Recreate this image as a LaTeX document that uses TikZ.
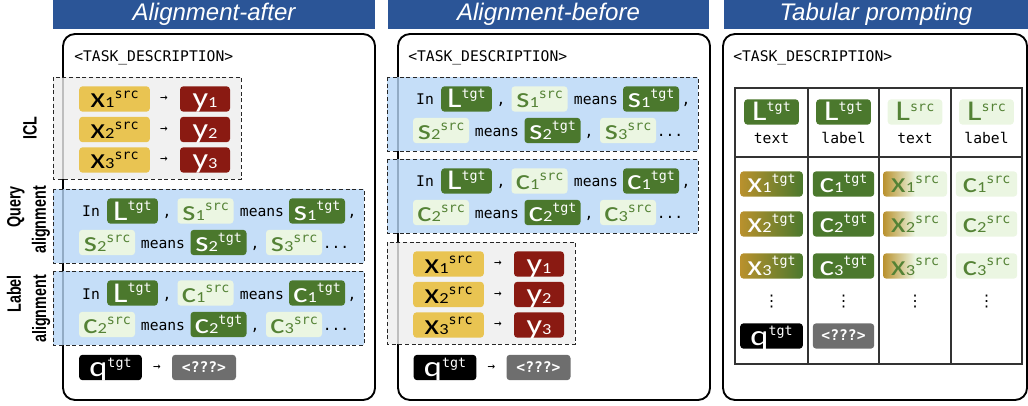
\documentclass[tikz,border=0pt]{standalone}
\usepackage{fontspec}
\setmainfont{Carlito}
\newfontfamily\tokfont[FakeStretch=1.2]{Carlito}
\newfontfamily\monofont{DejaVu Sans Mono}
\newfontfamily\symfont{DejaVu Sans}
\newfontfamily\headfont{Liberation Sans}
\newfontfamily\sidefont[FakeStretch=0.74]{Liberation Sans}
\usepackage{xcolor}
\usepackage{tikz}
\usetikzlibrary{positioning}

\definecolor{hdblue}{HTML}{2B5597}
\definecolor{icly}{HTML}{E9C452}
\definecolor{iclr}{HTML}{8A1A12}
\definecolor{dgreen}{HTML}{4B782D}
\definecolor{lgreen}{HTML}{EBF6E2}
\definecolor{tgreen}{HTML}{548235}
\definecolor{gold}{HTML}{B9912D}
\definecolor{unkgrey}{HTML}{6E6E6E}
\definecolor{iclgrey}{HTML}{EEEEEE}
\definecolor{alblue}{HTML}{B7D6F6}

% token: main letter, subscript, superscript
\newcommand{\tok}[3]{{\tokfont\fontsize{21.5}{21.5}\selectfont #1}{\tokfont\fontsize{11.5}{11.5}\selectfont #2}\raisebox{7pt}{\monofont\fontsize{10}{10}\selectfont #3}}

% ICL examples block
\newcommand{\iclblock}[1]{%
  \draw[iclgrp] (53,77) rectangle (241,179);
  \foreach \i/\yy in {1/99,2/129.5,3/160}{
    \node[xsrc] (#1x\i) at (114.5,\yy) {\tok{x}{\i}{src}};
    \node[arr] (#1a\i) at (164,\yy) {→};
    \node[ylab] (#1y\i) at (205,\yy) {\tok{y}{\i}{}};
  }
}

% alignment block (#2 = letter)
\newcommand{\alignblock}[2]{%
  \draw[aligngrp] (53,189) rectangle (364,263);
  \node[word] (#1in) at (91,217) {In};
  \node[tgtbox, minimum width=38pt] (#1L) at (132.5,211) {\tok{L}{}{tgt}};
  \node[word] (#1k1) at (167,217) {,};
  \node[srcbox] (#1s1) at (205.5,211) {\tok{#2}{1}{src}};
  \node[word] (#1m1) at (262,217) {means};
  \node[tgtbox] (#1t1) at (317,211) {\tok{#2}{1}{tgt}};
  \node[word] (#1k2) at (352,217) {,};
  \node[srcbox] (#1s2) at (107,242.5) {\tok{#2}{2}{src}};
  \node[word] (#1m2) at (163,248.5) {means};
  \node[tgtbox] (#1t2) at (218.5,242.5) {\tok{#2}{2}{tgt}};
  \node[word] (#1k3) at (255,248.5) {,};
  \node[srcbox] (#1s3) at (294,242.5) {\tok{#2}{3}{src}};
  \node[word] (#1dots) at (336,248.5) {...};
}

% query row
\newcommand{\qrow}[1]{%
  \node[qbox] (#1q) at (110.5,367.5) {\tok{q}{}{tgt}};
  \node[arr] (#1qa) at (157,367.5) {→};
  \node[unk] (#1u) at (204,367.5) {<???>};
}

\begin{document}
\begin{tikzpicture}[
  x=0.75pt, y=-0.75pt,
  hbar/.style={fill=hdblue, text=white, minimum height=21.75pt, inner sep=0pt,
    font=\headfont\itshape\fontsize{18}{18}\selectfont},
  panel/.style={draw=black, line width=1.4pt, rounded corners=9pt},
  iclgrp/.style={draw=black!85, dash pattern=on 3pt off 2pt, line width=0.7pt,
    fill=iclgrey, fill opacity=0.8},
  aligngrp/.style={iclgrp, fill=alblue},
  tk/.style={rounded corners=2.5pt, inner sep=0pt, minimum height=19pt,
    text height=14pt, text depth=0.5pt},
  xsrc/.style={tk, fill=icly, text=black, minimum width=53pt},
  ylab/.style={tk, fill=iclr, text=white, minimum width=37.5pt},
  tgtbox/.style={tk, fill=dgreen, text=white, minimum width=42pt},
  srcbox/.style={tk, fill=lgreen, text=tgreen, minimum width=42pt},
  qbox/.style={tk, fill=black, text=white, minimum width=47pt},
  unk/.style={tk, fill=unkgrey, text=white, minimum width=48pt,
    text height=8pt, text depth=1pt,
    font=\monofont\bfseries\fontsize{11}{11}\selectfont},
  tgtgrad/.style={tk, left color=gold, right color=dgreen, text=white},
  srcgrad/.style={tk, left color=gold, right color=lgreen, middle color=lgreen, text=tgreen},
  word/.style={font=\monofont\fontsize{11}{11}\selectfont, inner sep=0pt, anchor=base},
  arr/.style={font=\monofont\fontsize{9.5}{9.5}\selectfont, inner sep=0pt},
  vdot/.style={font=\symfont\fontsize{12}{12}\selectfont, inner sep=0pt},
  side/.style={font=\sidefont\bfseries\fontsize{14.5}{19}\selectfont, rotate=90, align=right},
  tline/.style={draw=black!80, line width=0.8pt}
  ]
  \useasboundingbox (0,0) rectangle (1028,406);

  % === headers ===
  \node[hbar, minimum width=241.5pt] (hafter) at (214,14.5) {Alignment-after};
  \node[hbar, minimum width=240.75pt] (hbefore) at (548.5,14.5) {Alignment-before};
  \node[hbar, minimum width=228pt] (htab) at (876,14.5) {Tabular prompting};

  % === panels ===
  \draw[panel] (63,34) rectangle (375,400);
  \draw[panel] (398,34) rectangle (710,400);
  \draw[panel] (723,34) rectangle (1027,400);

  \node[word, anchor=base west] (task1) at (74,61.5) {<TASK\_DESCRIPTION>};
  \node[word, anchor=base west] (task2) at (408,61.5) {<TASK\_DESCRIPTION>};
  \node[word, anchor=base west] (task3) at (733,61.5) {<TASK\_DESCRIPTION>};

  % side labels
  \node[side] (licl) at (30,128) {ICL};
  \node[side] (lquery) at (28.5,220) {Query\\alignment};
  \node[side] (llabel) at (28.5,309) {Label\\alignment};

  % === Alignment-after ===
  \iclblock{a}
  \alignblock{aq}{s}
  \begin{scope}[shift={(0,82)}]
    \alignblock{al}{c}
  \end{scope}
  \qrow{a}

  % === Alignment-before ===
  \begin{scope}[shift={(334,-112)}]
    \alignblock{bq}{s}
  \end{scope}
  \begin{scope}[shift={(334,-30)}]
    \alignblock{bl}{c}
  \end{scope}
  \begin{scope}[shift={(334,165)}]
    \iclblock{b}
  \end{scope}
  \begin{scope}[shift={(334.5,0)}]
    \qrow{b}
  \end{scope}

  % === Tabular prompting ===
  \draw[tline] (735,88) rectangle (1022,364);
  \draw[tline] (735,157) -- (1022,157);
  \foreach \xx in {808,879,951}
    \draw[tline] (\xx,88) -- (\xx,364);

  \node[tgtbox, minimum width=41pt] (h1) at (771.5,112) {\tok{L}{}{tgt}};
  \node[tgtbox, minimum width=41pt] (h2) at (843.5,112) {\tok{L}{}{tgt}};
  \node[srcbox, minimum width=41pt] (h3) at (915,112) {\tok{L}{}{src}};
  \node[srcbox, minimum width=41pt] (h4) at (986.5,112) {\tok{L}{}{src}};
  \foreach \xx/\w [count=\i] in {771.5/text,843.5/label,915/text,986.5/label}
    \node[word] (w\i) at (\xx,143.5) {\w};

  \foreach \i/\yy in {1/184,2/224,3/266}{
    \node[tgtgrad, minimum width=47pt] (tx\i) at (771.5,\yy) {\tok{x}{\i}{tgt}};
    \node[tgtbox, minimum width=46pt] (tc\i) at (843.5,\yy) {\tok{c}{\i}{tgt}};
    \node[srcgrad, minimum width=48pt] (sx\i) at (915,\yy) {\tok{x}{\i}{src}};
    \node[srcbox, minimum width=46pt] (sc\i) at (986.5,\yy) {\tok{c}{\i}{src}};
  }
  \foreach \xx [count=\i] in {771.5,843.5,915,986.5}
    \node[vdot] (vd\i) at (\xx,301.5) {⋮};

  \node[qbox] (tq) at (771.5,336) {\tok{q}{}{tgt}};
  \node[unk, minimum width=46pt] (tu) at (843.5,336) {<???>};
\end{tikzpicture}
\end{document}
